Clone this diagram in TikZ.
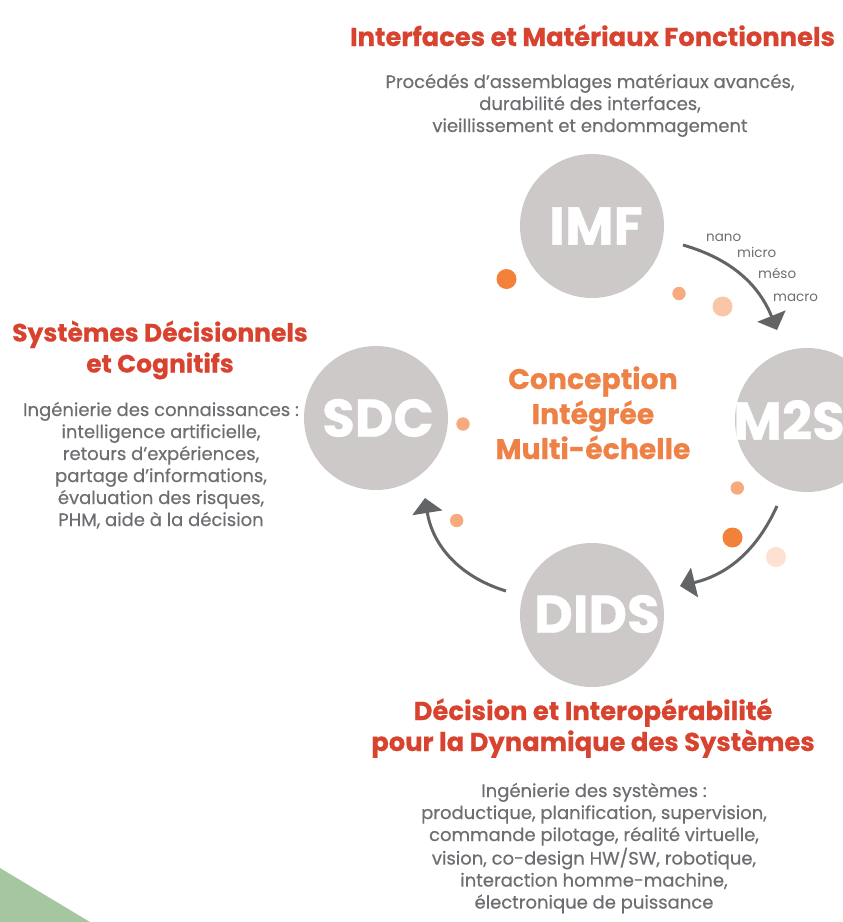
\documentclass[tikz,border=0pt]{standalone}
\usepackage{fontspec}
\setmainfont{Poppins}
\newfontfamily\bodyfont{Poppins}[FakeBold=0.5]
\newfontfamily\headfont{Poppins}[FakeBold=0.6, UprightFont=*-Bold, BoldFont=*-Bold]
\usetikzlibrary{arrows.meta}
\definecolor{circgrey}{HTML}{CCC9C8}
\definecolor{titlered}{HTML}{D8432F}
\definecolor{bodygrey}{HTML}{6D6E71}
\definecolor{arrowgrey}{HTML}{636466}
\definecolor{centreorange}{HTML}{EE8146}
\definecolor{dotA}{HTML}{F2823A}
\definecolor{dotB}{HTML}{F6AA7D}
\definecolor{dotC}{HTML}{F9C6A7}
\definecolor{dotD}{HTML}{FCE1D1}
\definecolor{leafgreen}{HTML}{A4C7A0}
\newcommand\mylines[1]{\begin{tabular}[t]{@{}c@{}}#1\end{tabular}}
\begin{document}
\begin{tikzpicture}[x=1pt,y=1pt,
  bubble/.style={circle, minimum size=144pt, inner sep=0pt, fill=circgrey},
  bubtext/.style={text=white, font=\headfont\fontsize{53}{53}\selectfont, inner sep=0pt},
  titletext/.style={text=titlered, font=\headfont\fontsize{25.8}{31}\selectfont, inner sep=0pt, anchor=base},
  bodytext/.style={text=bodygrey, font=\bodyfont\fontsize{18}{22}\selectfont, inner sep=0pt, anchor=base},
  centretext/.style={text=centreorange, font=\headfont\fontsize{28.3}{35}\selectfont, inner sep=0pt, anchor=base},
  scaletext/.style={text=bodygrey, font=\fontsize{13.5}{14}\selectfont, inner sep=0pt, anchor=base west},
  flow/.style={draw=arrowgrey, line width=3pt, -{Triangle[width=30pt,length=15pt]}},
]
\useasboundingbox (0,0) rectangle (843,-922);
% green corner
\fill[leafgreen] (0,-868) -- (90,-922) -- (0,-922) -- cycle;

% circles
\node[bubble] (IMF) at (592,-226) {};
\node[bubble] (SDC) at (376,-418) {};
\node[bubble] (M2S) at (807,-420) {};
\node[bubble] (DIDS) at (592,-615) {};
\node[bubtext] (IMFt) at (596,-226) {IMF};
\node[bubtext] (SDCt) at (378,-418) {SDC};
\node[bubtext] (M2St) at (789,-420) {M2S};
\node[bubtext] (DIDSt) at (597,-614) {DIDS};

% dots
\fill[dotA] (506.5,-279) circle (10);
\fill[dotB] (679,-293.5) circle (6.7);
\fill[dotC] (722.5,-306.5) circle (10);
\fill[dotB] (463,-424) circle (6.7);
\fill[dotB] (456.7,-520.5) circle (6.7);
\fill[dotB] (737.3,-488) circle (6.7);
\fill[dotA] (732.5,-537.5) circle (10);
\fill[dotD] (776,-557) circle (10);

% arrows
\coordinate (a1s) at (683,-245);
\coordinate (a1e) at (777,-330);
\coordinate (a2s) at (777,-506);
\coordinate (a2e) at (680,-586);
\coordinate (a3s) at (506,-591);
\coordinate (a3e) at (425,-498);
\draw[flow] (a1s) to[bend left=26] (a1e);
\draw[flow] (a2s) to[bend left=26] (a2e);
\draw[flow] (a3s) to[bend left=32] (a3e);

% scale labels
\node[scaletext] (nano) at (706,-241.5) {nano};
\node[scaletext] (micro) at (737,-257) {micro};
\node[scaletext] (meso) at (758,-278) {méso};
\node[scaletext] (macro) at (773,-301.5) {macro};

% centre
\node[centretext] (centre) at (593,-389) {\mylines{Conception\\Intégrée\\Multi-échelle}};

% IMF texts
\node[titletext] (IMFtitle) at (592.5,-46) {Interfaces et Matériaux Fonctionnels};
\node[bodytext] (IMFbody) at (590,-88) {\mylines{Procédés d’assemblages matériaux avancés,\\durabilité des interfaces,\\vieillissement et endommagement}};

% SDC texts
\node[titletext, font=\headfont\fontsize{25}{31}\selectfont] (SDCtitle) at (160,-341.5) {\mylines{Systèmes Décisionnels\\et Cognitifs}};
\node[bodytext] (SDCbody) at (161,-416) {\mylines{Ingénierie des connaissances :\\intelligence artificielle,\\retours d’expériences,\\partage d’informations,\\évaluation des risques,\\PHM, aide à la décision}};

% DIDS texts
\node[titletext] (DIDStitle) at (593,-720) {\mylines{Décision et Interopérabilité\\pour la Dynamique des Systèmes}};
\node[bodytext] (DIDSbody) at (594,-797) {\mylines{Ingénierie des systèmes :\\productique, planification, supervision,\\commande pilotage, réalité virtuelle,\\vision, co-design HW/SW, robotique,\\interaction homme-machine,\\électronique de puissance}};
\end{tikzpicture}
\end{document}
